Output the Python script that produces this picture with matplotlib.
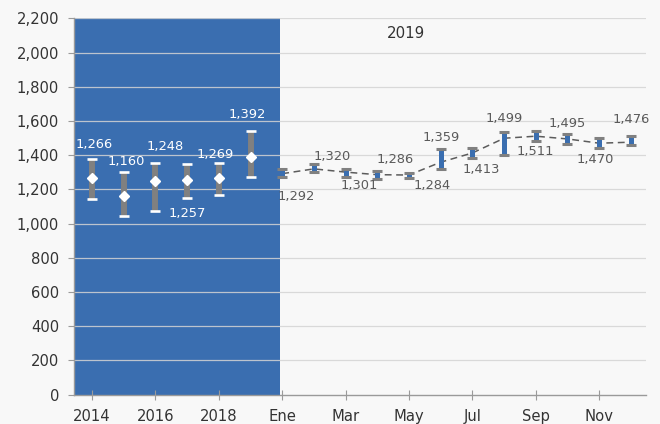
import numpy as np
import matplotlib
matplotlib.use("Agg")
import matplotlib.pyplot as plt
from matplotlib.ticker import FuncFormatter

# annual series (2014-2019): mean, min, max
years = ["2014", "2015", "2016", "2017", "2018", "2019"]
year_mean = [1266, 1160, 1248, 1257, 1269, 1392]
year_low = [1141, 1044, 1073, 1149, 1170, 1270]
year_high = [1375, 1299, 1357, 1346, 1352, 1542]

# monthly series 2019
months = ["Ene", "Feb", "Mar", "Abr", "May", "Jun",
          "Jul", "Ago", "Sep", "Oct", "Nov", "Dic"]
month_val = [1292, 1320, 1301, 1286, 1284, 1359, 1413, 1499, 1511, 1495, 1470, 1476]
month_low = [1273, 1301, 1273, 1260, 1268, 1322, 1384, 1402, 1482, 1468, 1443, 1461]
month_high = [1322, 1347, 1322, 1308, 1293, 1435, 1441, 1533, 1540, 1523, 1503, 1511]

BLUE = "#3a6eb0"
GRAY = "#808080"
BG = "#f8f8f8"

# label placement (pixels): side +1 above / -1 below, dx shift, distance from cap
year_side = [1, 1, 1, -1, 1, 1]
year_dx = [2, 2, 10, 0, -4, -3]
year_dy = [15, 11, 16, 15, 9, 16]
month_side = [-1, 1, -1, 1, -1, 1, -1, 1, -1, 1, -1, 1]
month_dx = [14, 18, 14, 18, 23, 0, 9, 0, 0, 0, -4, 0]
month_dy = [20, 8, 9, 11, 8, 12, 12, 14, 10, 11, 12, 17]

fig = plt.figure(figsize=(6.6, 4.24), dpi=100, facecolor=BG)
ax = fig.add_axes([0.1126, 0.0691, 0.8658, 0.8877], facecolor=BG)

xy = np.arange(len(years))
xm = np.arange(len(months)) + len(years)

ax.set_xlim(-0.56, 17.47)
ax.set_ylim(0, 2200)

# blue block behind the annual history
ax.axvspan(-0.56, 5.92, color=BLUE, zorder=0, lw=0)

ax.set_yticks(np.arange(0, 2201, 200))
for y in np.arange(200, 2201, 200):
    ax.axhline(y, color="#d4d4d4", lw=0.9, alpha=0.85, zorder=1)

# annual bars
ax.vlines(xy, year_low, year_high, color=GRAY, lw=4.3, zorder=3)
ax.plot(xy, year_low, ls="none", marker="_", ms=7.5, mew=1.9, color="white", zorder=4)
ax.plot(xy, year_high, ls="none", marker="_", ms=7.5, mew=1.9, color="white", zorder=4)
ax.plot(xy, year_mean, ls="none", marker="D", ms=5.3, color="white", mec="white", zorder=5)

# monthly line and bars
ax.plot(xm, month_val, color="#5c5c5c", lw=1.1, dashes=(4.5, 3), zorder=2)
ax.vlines(xm, month_low, month_high, color=BLUE, lw=3.6, zorder=3)
ax.plot(xm, month_low, ls="none", marker="_", ms=6.8, mew=2.2, color=GRAY, zorder=4)
ax.plot(xm, month_high, ls="none", marker="_", ms=6.8, mew=2.2, color=GRAY, zorder=4)

for i in range(len(years)):
    base = year_high[i] if year_side[i] > 0 else year_low[i]
    ax.annotate(f"{year_mean[i]:,}", (xy[i], base),
                xytext=(year_dx[i], year_side[i] * year_dy[i]), textcoords="offset pixels",
                ha="center", va="center", fontsize=9.4, color="white", zorder=6)

for i in range(len(months)):
    base = month_high[i] if month_side[i] > 0 else month_low[i]
    ax.annotate(f"{month_val[i]:,}", (xm[i], base),
                xytext=(month_dx[i], month_side[i] * month_dy[i]), textcoords="offset pixels",
                ha="center", va="center", fontsize=9.4, color="#5a5a5a", zorder=6)

ax.text(9.9, 2110, "2019", ha="center", va="center", fontsize=10.8, color="#333333")

# axes styling
ax.yaxis.set_major_formatter(FuncFormatter(lambda v, p: f"{int(v):,}"))
all_labels = years + months
tick_pos = np.arange(0, len(all_labels), 2)
ax.set_xticks(tick_pos)
ax.set_xticklabels([all_labels[i] for i in tick_pos])

for s in ["top", "right"]:
    ax.spines[s].set_visible(False)
for s in ["left", "bottom"]:
    ax.spines[s].set_color("#9a9a9a")
    ax.spines[s].set_linewidth(1.0)

ax.tick_params(axis="x", direction="inout", length=7, width=0.8, color="#9a9a9a",
               pad=7, labelsize=10.6, labelcolor="#333333")
ax.tick_params(axis="y", direction="out", length=4, width=0.8, color="#9a9a9a",
               pad=7, labelsize=10.6, labelcolor="#333333")

fig.savefig("out.png", dpi=100, facecolor=BG)
